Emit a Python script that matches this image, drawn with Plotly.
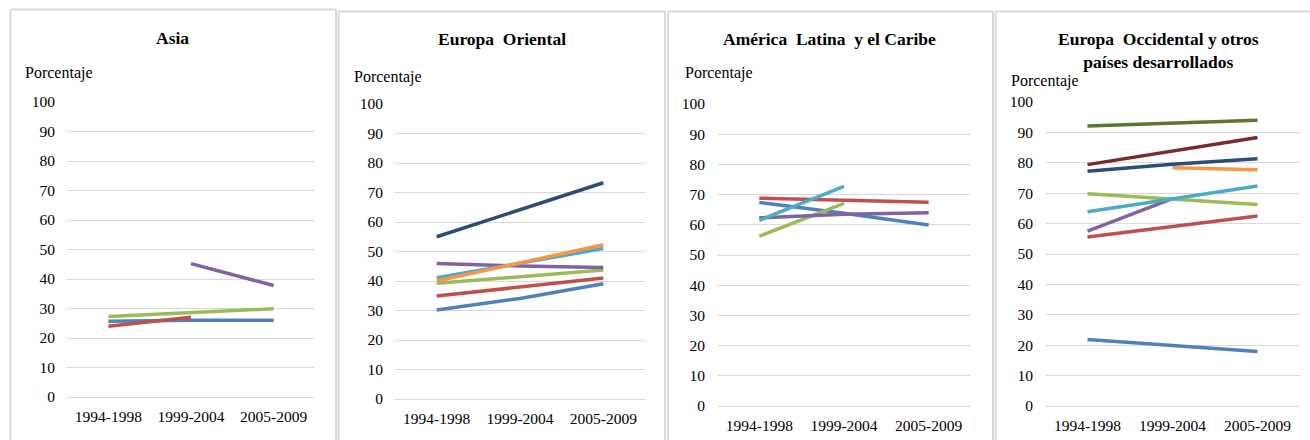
import plotly.graph_objects as go

W, H = 1310, 440

periods = ["1994-1998", "1999-2004", "2005-2009"]
y_ticks = [0, 10, 20, 30, 40, 50, 60, 70, 80, 90, 100]

# Asia
asia_blue = [25.7, 26.0, 26.0]
asia_red = [24.0, 27.0, None]
asia_green = [27.3, 28.6, 29.9]
asia_purple = [None, 45.2, 37.8]

# Europa Oriental
eo_blue = [30.2, 34.1, 39.1]
eo_red = [34.9, 38.1, 41.0]
eo_green = [39.2, 41.5, 43.7]
eo_purple = [45.9, 45.1, 44.6]
eo_cyan = [41.1, 46.0, 51.0]
eo_orange = [40.0, 46.3, 52.3]
eo_navy = [55.0, 64.1, 73.3]

# América Latina y el Caribe
al_blue = [67.4, 63.8, 59.9]
al_red = [68.8, 68.2, 67.5]
al_green = [56.2, 67.1, None]
al_purple = [62.3, 63.5, 64.0]
al_cyan = [61.5, 72.7, None]

# Europa Occidental y otros países desarrollados
ew_blue = [21.9, 20.0, 17.9]
ew_red = [55.6, 59.1, 62.5]
ew_green = [69.8, 68.0, 66.3]
ew_purple = [57.5, 68.2, None]
ew_cyan = [63.9, 68.2, 72.4]
ew_orange = [None, 78.4, 77.7]
ew_navy = [77.2, 79.5, 81.3]
ew_maroon = [79.4, 83.9, 88.3]
ew_olive = [92.1, 93.1, 94.0]

titles = ["<b>Asia</b>", "<b>Europa  Oriental</b>", "<b>América  Latina  y el Caribe</b>",
          "<b>Europa  Occidental y otros<br>países desarrollados</b>"]
y_label = "Porcentaje"

COL = {"blue": "#4F81BD", "red": "#C0504D", "green": "#9BBB59", "purple": "#8064A2",
       "cyan": "#4BACC6", "orange": "#F79646", "navy": "#2C4D75", "maroon": "#772C2A",
       "olive": "#5F7530"}

panels = [
    [("blue", asia_blue), ("red", asia_red), ("green", asia_green), ("purple", asia_purple)],
    [("blue", eo_blue), ("red", eo_red), ("green", eo_green), ("purple", eo_purple),
     ("cyan", eo_cyan), ("orange", eo_orange), ("navy", eo_navy)],
    [("blue", al_blue), ("red", al_red), ("green", al_green), ("purple", al_purple),
     ("cyan", al_cyan)],
    [("blue", ew_blue), ("red", ew_red), ("green", ew_green), ("purple", ew_purple),
     ("cyan", ew_cyan), ("orange", ew_orange), ("navy", ew_navy), ("maroon", ew_maroon),
     ("olive", ew_olive)],
]

# layout geometry in pixels
plot_x = [(67, 315), (395, 645), (717, 971), (1045, 1300)]
plot_y = [(397, 102), (399, 104), (406, 104), (406, 102)]  # (bottom, top)
title_pos = [(172, 38), (502, 39), (829, 39), (1158, 50)]
ylab_pos = [(23, 73), (352, 77), (683, 73), (1009, 81)]
borders = [(10.5, 9.5, 336), (338.5, 11.5, 665), (668, 11.5, 993), (995.5, 11.5, 1320)]

def px(x):
    return x / W

def py(y):
    return 1 - y / H

FONT = "Liberation Serif, Times New Roman, serif"
fig = go.Figure()
layout = dict(width=W, height=H, margin=dict(l=0, r=0, t=0, b=0, pad=0, autoexpand=False),
              paper_bgcolor="white", plot_bgcolor="white", showlegend=False,
              font=dict(family=FONT, color="#000000"))
annotations = []
shapes = []

for i, series in enumerate(panels):
    n = i + 1
    xa = "x" if n == 1 else f"x{n}"
    ya = "y" if n == 1 else f"y{n}"
    for name, vals in series:
        fig.add_trace(go.Scatter(x=periods, y=vals, mode="lines", xaxis=xa, yaxis=ya,
                                 line=dict(color=COL[name], width=3.5),
                                 connectgaps=False, hoverinfo="skip"))
    layout["xaxis" if n == 1 else f"xaxis{n}"] = dict(
        domain=[px(plot_x[i][0]), px(plot_x[i][1])], anchor=ya, type="category",
        categoryorder="array", categoryarray=periods, range=[-0.5, 2.5], automargin=False,
        showgrid=False, showline=False, zeroline=False, ticks="",
        tickfont=dict(family=FONT, size=15.5, color="#000"), ticklabelstandoff=8)
    layout["yaxis" if n == 1 else f"yaxis{n}"] = dict(
        domain=[py(plot_y[i][0]), py(plot_y[i][1])], anchor=xa, range=[0, 100],
        automargin=False,
        tickvals=y_ticks, showgrid=True, gridcolor="#D9D9D9", gridwidth=1,
        zeroline=True, zerolinecolor="#D9D9D9", zerolinewidth=1, showline=False,
        ticks="", tickfont=dict(family=FONT, size=15.5, color="#000"), ticklabelstandoff=11)
    annotations.append(dict(text=titles[i], x=px(title_pos[i][0]), y=py(title_pos[i][1]),
                            xref="paper", yref="paper", xanchor="center", yanchor="middle",
                            showarrow=False, font=dict(family=FONT, size=17.5, color="#000")))
    annotations.append(dict(text=y_label, x=px(ylab_pos[i][0]), y=py(ylab_pos[i][1]),
                            xref="paper", yref="paper", xanchor="left", yanchor="middle",
                            showarrow=False, font=dict(family=FONT, size=16, color="#000")))
    bx0, by0, bx1 = borders[i]
    for (x0, y0, x1, y1) in [(bx0, by0, bx0, H + 20), (bx0, by0, bx1, by0), (bx1, by0, bx1, H + 20)]:
        shapes.append(dict(type="line", xref="paper", yref="paper",
                           x0=px(x0), y0=py(y0), x1=px(x1), y1=py(y1),
                           line=dict(color="#D9D9D9", width=2), layer="below"))

layout["annotations"] = annotations
layout["shapes"] = shapes
fig.update_layout(**layout)
fig.write_html("out.html", config={"displayModeBar": False},
               post_script="document.body.style.margin='0';document.body.style.overflow='hidden';")
